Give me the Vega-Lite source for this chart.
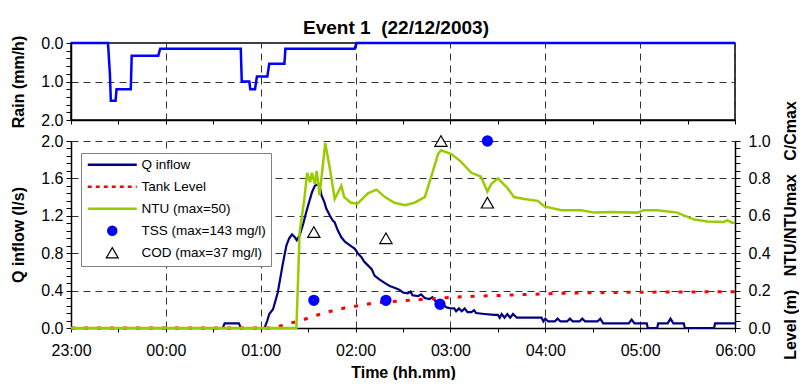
{
  "$schema": "https://vega.github.io/schema/vega-lite/v6.json",
  "background": "white",
  "padding": {"left": 10, "top": 18, "right": 0, "bottom": 0},
  "config": {
    "font": "Liberation Sans",
    "view": {"stroke": null},
    "axis": {
      "labelFont": "Liberation Sans", "labelFontSize": 16, "labelColor": "#000",
      "titleFont": "Liberation Sans", "titleFontSize": 16, "titleFontWeight": "bold", "titleColor": "#000",
      "domainColor": "#000", "domainWidth": 1.5, "tickColor": "#000", "tickWidth": 1,
      "gridColor": "#333", "gridDash": [7, 5], "gridWidth": 1,
      "labelOverlap": false, "labelBound": false, "labelFlush": false
    }
  },
  "datasets": {
    "rain": [
      {"h": 0, "v": 0}, {"h": 0.39, "v": 0}, {"h": 0.41, "v": 0.8}, {"h": 0.42, "v": 1.5}, {"h": 0.47, "v": 1.5},
      {"h": 0.48, "v": 1.2}, {"h": 0.63, "v": 1.2}, {"h": 0.64, "v": 0.33}, {"h": 0.92, "v": 0.33}, {"h": 0.94, "v": 0.15},
      {"h": 1.79, "v": 0.15}, {"h": 1.8, "v": 1.0}, {"h": 1.88, "v": 1.0}, {"h": 1.89, "v": 1.2}, {"h": 1.94, "v": 1.2},
      {"h": 1.96, "v": 0.87}, {"h": 2.07, "v": 0.87}, {"h": 2.09, "v": 0.54}, {"h": 2.25, "v": 0.54}, {"h": 2.26, "v": 0.15},
      {"h": 2.99, "v": 0.15}, {"h": 3.01, "v": 0}, {"h": 7, "v": 0}
    ],
    "q": [
      {"h": 0, "v": 0}, {"h": 1.6, "v": 0}, {"h": 1.62, "v": 0.05}, {"h": 1.77, "v": 0.05}, {"h": 1.79, "v": 0},
      {"h": 2.04, "v": 0}, {"h": 2.07, "v": 0.08}, {"h": 2.09, "v": 0.15}, {"h": 2.13, "v": 0.2}, {"h": 2.18, "v": 0.38},
      {"h": 2.23, "v": 0.67}, {"h": 2.27, "v": 0.88}, {"h": 2.3, "v": 0.96}, {"h": 2.33, "v": 1.0}, {"h": 2.36, "v": 0.97},
      {"h": 2.38, "v": 0.94}, {"h": 2.41, "v": 0.99}, {"h": 2.45, "v": 1.12}, {"h": 2.48, "v": 1.24}, {"h": 2.54, "v": 1.45},
      {"h": 2.57, "v": 1.52}, {"h": 2.61, "v": 1.54}, {"h": 2.63, "v": 1.48}, {"h": 2.64, "v": 1.42}, {"h": 2.67, "v": 1.35},
      {"h": 2.69, "v": 1.28}, {"h": 2.73, "v": 1.2}, {"h": 2.76, "v": 1.15}, {"h": 2.78, "v": 1.13}, {"h": 2.81, "v": 1.05},
      {"h": 2.85, "v": 0.97}, {"h": 2.89, "v": 0.92}, {"h": 2.92, "v": 0.9}, {"h": 2.96, "v": 0.87}, {"h": 2.99, "v": 0.85},
      {"h": 3.03, "v": 0.79}, {"h": 3.06, "v": 0.76}, {"h": 3.09, "v": 0.71}, {"h": 3.13, "v": 0.67}, {"h": 3.17, "v": 0.63},
      {"h": 3.2, "v": 0.56}, {"h": 3.25, "v": 0.52}, {"h": 3.31, "v": 0.48}, {"h": 3.36, "v": 0.45}, {"h": 3.41, "v": 0.43},
      {"h": 3.46, "v": 0.41}, {"h": 3.5, "v": 0.38}, {"h": 3.55, "v": 0.37}, {"h": 3.58, "v": 0.39}, {"h": 3.6, "v": 0.35},
      {"h": 3.66, "v": 0.34}, {"h": 3.69, "v": 0.36}, {"h": 3.73, "v": 0.32}, {"h": 3.78, "v": 0.31}, {"h": 3.81, "v": 0.33},
      {"h": 3.84, "v": 0.29}, {"h": 3.87, "v": 0.28}, {"h": 3.92, "v": 0.25}, {"h": 3.96, "v": 0.22}, {"h": 4.0, "v": 0.21},
      {"h": 4.04, "v": 0.21}, {"h": 4.06, "v": 0.18}, {"h": 4.09, "v": 0.21}, {"h": 4.12, "v": 0.18}, {"h": 4.15, "v": 0.21},
      {"h": 4.18, "v": 0.17}, {"h": 4.22, "v": 0.17}, {"h": 4.25, "v": 0.19}, {"h": 4.27, "v": 0.16}, {"h": 4.36, "v": 0.15},
      {"h": 4.46, "v": 0.14}, {"h": 4.5, "v": 0.14}, {"h": 4.52, "v": 0.11}, {"h": 4.54, "v": 0.15}, {"h": 4.57, "v": 0.11},
      {"h": 4.6, "v": 0.15}, {"h": 4.63, "v": 0.11}, {"h": 4.66, "v": 0.15}, {"h": 4.7, "v": 0.11}, {"h": 4.74, "v": 0.11},
      {"h": 4.81, "v": 0.11}, {"h": 4.96, "v": 0.11}, {"h": 4.98, "v": 0.07}, {"h": 5.0, "v": 0.1}, {"h": 5.03, "v": 0.07},
      {"h": 5.1, "v": 0.07}, {"h": 5.13, "v": 0.1}, {"h": 5.16, "v": 0.07}, {"h": 5.23, "v": 0.07}, {"h": 5.26, "v": 0.1},
      {"h": 5.29, "v": 0.07}, {"h": 5.36, "v": 0.07}, {"h": 5.39, "v": 0.1}, {"h": 5.42, "v": 0.07}, {"h": 5.55, "v": 0.07},
      {"h": 5.58, "v": 0.1}, {"h": 5.61, "v": 0.05}, {"h": 5.88, "v": 0.05}, {"h": 5.91, "v": 0.09}, {"h": 5.94, "v": 0.05},
      {"h": 6.07, "v": 0.05}, {"h": 6.08, "v": 0}, {"h": 6.18, "v": 0}, {"h": 6.19, "v": 0.05}, {"h": 6.29, "v": 0.05},
      {"h": 6.32, "v": 0.1}, {"h": 6.35, "v": 0.05}, {"h": 6.46, "v": 0.05}, {"h": 6.47, "v": 0}, {"h": 6.78, "v": 0},
      {"h": 6.79, "v": 0.05}, {"h": 7.0, "v": 0.05}
    ],
    "level": [
      {"h": 0, "v": 0}, {"h": 2.11, "v": 0}, {"h": 2.2, "v": 0.01}, {"h": 2.29, "v": 0.023}, {"h": 2.43, "v": 0.041},
      {"h": 2.59, "v": 0.068}, {"h": 2.74, "v": 0.09}, {"h": 2.88, "v": 0.107}, {"h": 3.04, "v": 0.12}, {"h": 3.2, "v": 0.134},
      {"h": 3.49, "v": 0.145}, {"h": 3.65, "v": 0.151}, {"h": 3.95, "v": 0.162}, {"h": 4.25, "v": 0.17}, {"h": 4.57, "v": 0.175},
      {"h": 5.17, "v": 0.186}, {"h": 5.86, "v": 0.191}, {"h": 6.57, "v": 0.193}, {"h": 7.0, "v": 0.194}
    ],
    "ntu": [
      {"h": 0, "v": 0}, {"h": 2.376, "v": 0}, {"h": 2.39, "v": 0.2}, {"h": 2.41, "v": 0.51}, {"h": 2.46, "v": 0.69},
      {"h": 2.49, "v": 0.83}, {"h": 2.52, "v": 0.78}, {"h": 2.54, "v": 0.83}, {"h": 2.57, "v": 0.77}, {"h": 2.59, "v": 0.84},
      {"h": 2.62, "v": 0.71}, {"h": 2.64, "v": 0.8}, {"h": 2.68, "v": 0.99}, {"h": 2.73, "v": 0.85}, {"h": 2.78, "v": 0.69},
      {"h": 2.85, "v": 0.76}, {"h": 2.88, "v": 0.7}, {"h": 2.95, "v": 0.67}, {"h": 3.02, "v": 0.665}, {"h": 3.13, "v": 0.72},
      {"h": 3.22, "v": 0.74}, {"h": 3.31, "v": 0.7}, {"h": 3.41, "v": 0.67}, {"h": 3.52, "v": 0.656}, {"h": 3.62, "v": 0.67},
      {"h": 3.73, "v": 0.7}, {"h": 3.81, "v": 0.83}, {"h": 3.87, "v": 0.93}, {"h": 3.9, "v": 0.95}, {"h": 4.01, "v": 0.93},
      {"h": 4.11, "v": 0.89}, {"h": 4.22, "v": 0.83}, {"h": 4.32, "v": 0.81}, {"h": 4.39, "v": 0.73}, {"h": 4.43, "v": 0.77},
      {"h": 4.5, "v": 0.8}, {"h": 4.6, "v": 0.75}, {"h": 4.67, "v": 0.7}, {"h": 4.78, "v": 0.69}, {"h": 4.92, "v": 0.68},
      {"h": 4.99, "v": 0.65}, {"h": 5.17, "v": 0.63}, {"h": 5.38, "v": 0.63}, {"h": 5.52, "v": 0.617}, {"h": 5.69, "v": 0.62},
      {"h": 5.97, "v": 0.617}, {"h": 6.04, "v": 0.63}, {"h": 6.18, "v": 0.63}, {"h": 6.39, "v": 0.617}, {"h": 6.57, "v": 0.58},
      {"h": 6.71, "v": 0.57}, {"h": 6.88, "v": 0.567}, {"h": 6.92, "v": 0.576}, {"h": 6.97, "v": 0.563}, {"h": 7.0, "v": 0.563}
    ],
    "tss": [
      {"h": 2.56, "v": 0.148}, {"h": 3.32, "v": 0.148}, {"h": 3.89, "v": 0.127}, {"h": 4.39, "v": 1.0}
    ],
    "cod": [
      {"h": 2.56, "v": 0.513}, {"h": 3.32, "v": 0.48}, {"h": 3.9, "v": 1.0}, {"h": 4.39, "v": 0.67}
    ]
  },
  "spacing": 21,
  "bounds": "flush",
  "resolve": {"legend": {"color": "independent"}},
  "vconcat": [
    {
      "width": 664,
      "height": 77,
      "title": {"text": "Event 1\u00a0\u00a0(22/12/2003)", "fontSize": 19, "fontWeight": "bold", "font": "Liberation Sans", "color": "#000", "offset": -3, "dx": -7},
      "view": {"stroke": "#000", "strokeWidth": 1.5},
      "data": {"name": "rain"},
      "mark": {"type": "line", "color": "#0000ff", "strokeWidth": 2.5},
      "encoding": {
        "x": {
          "field": "h", "type": "quantitative",
          "scale": {"domain": [0, 7], "nice": false, "zero": false},
          "axis": {
            "values": [0, 0.5, 1, 1.5, 2, 2.5, 3, 3.5, 4, 4.5, 5, 5.5, 6, 6.5, 7],
            "labels": false, "title": null, "tickSize": 4,
            "gridOpacity": {"condition": {"test": "datum.value % 1 == 0", "value": 1}, "value": 0}
          }
        },
        "y": {
          "field": "v", "type": "quantitative",
          "scale": {"domain": [0, 2], "reverse": true, "nice": false},
          "axis": {
            "title": "Rain (mm/h)", "titlePadding": 14,
            "values": [0, 0.2, 0.4, 0.6, 0.8, 1, 1.2, 1.4, 1.6, 1.8, 2],
            "labelExpr": "abs(datum.value - round(datum.value)) < 0.01 ? format(datum.value, '.1f') : ''",
            "tickSize": 5, "labelPadding": 3,
            "gridOpacity": {"condition": {"test": "abs(datum.value - 1) < 0.01", "value": 1}, "value": 0}
          }
        }
      }
    },
    {
      "width": 664,
      "height": 187,
      "encoding": {
        "x": {
          "field": "h", "type": "quantitative",
          "scale": {"domain": [0, 7], "nice": false, "zero": false},
          "axis": {
            "title": "Time (hh.mm)", "titlePadding": 6,
            "values": [0, 0.5, 1, 1.5, 2, 2.5, 3, 3.5, 4, 4.5, 5, 5.5, 6, 6.5, 7],
            "labelExpr": "datum.value % 1 == 0 ? ['23:00','00:00','01:00','02:00','03:00','04:00','05:00','06:00'][datum.value] : ''",
            "tickSize": 4, "labelPadding": 10,
            "gridOpacity": {"condition": {"test": "datum.value % 1 == 0", "value": 1}, "value": 0}
          }
        }
      },
      "layer": [
        {
          "data": {"name": "q"},
          "mark": {"type": "line", "strokeWidth": 2.2},
          "encoding": {
            "y": {
              "field": "v", "type": "quantitative",
              "scale": {"domain": [0, 2], "nice": false},
              "axis": {
                "title": "Q inflow (l/s)", "titlePadding": 14,
                "values": [0, 0.08, 0.16, 0.24, 0.32, 0.4, 0.48, 0.56, 0.64, 0.72, 0.8, 0.88, 0.96, 1.04, 1.12, 1.2, 1.28, 1.36, 1.44, 1.52, 1.6, 1.68, 1.76, 1.84, 1.92, 2],
                "labelExpr": "abs(datum.value / 0.4 - round(datum.value / 0.4)) < 0.01 ? format(datum.value, '.1f') : ''",
                "tickSize": 5, "labelPadding": 3,
                "gridOpacity": {"condition": {"test": "abs(datum.value / 0.4 - round(datum.value / 0.4)) < 0.01", "value": 1}, "value": 0}
              }
            },
            "color": {
              "datum": "Q inflow", "type": "nominal",
              "scale": {
                "domain": ["Q inflow", "Tank Level", "NTU (max=50)", "TSS (max=143 mg/l)", "COD (max=37 mg/l)"],
                "range": ["#000080", "#ff0000", "#99cc00", "#0000ff", "#000000"]
              },
              "legend": {
                "orient": "none", "legendX": 10, "legendY": 12, "title": null,
                "fillColor": "#ffffff", "strokeColor": "#808080", "padding": 5,
                "labelFont": "Liberation Sans", "labelFontSize": 13.5, "labelColor": "#000",
                "labelOffset": 22.5, "symbolOffset": 19.5, "rowPadding": 7, "symbolSize": 2401, "symbolStrokeWidth": 2.5,
                "encode": {
                  "symbols": {
                    "update": {
                      "shape": {"signal": "datum.value == 'TSS (max=143 mg/l)' ? 'circle' : datum.value == 'COD (max=37 mg/l)' ? 'triangle-up' : 'stroke'"},
                      "size": {"signal": "datum.value == 'TSS (max=143 mg/l)' ? 110 : datum.value == 'COD (max=37 mg/l)' ? 140 : 2401"},
                      "fill": {"signal": "datum.value == 'TSS (max=143 mg/l)' ? '#0000ff' : 'transparent'"},
                      "strokeWidth": {"signal": "datum.value == 'COD (max=37 mg/l)' ? 1.2 : datum.value == 'TSS (max=143 mg/l)' ? 0 : 2.5"},
                      "strokeDash": {"signal": "datum.value == 'Tank Level' ? [4, 4] : [1, 0]"},
                      "opacity": {"value": 1}
                    }
                  }
                }
              }
            }
          }
        },
        {
          "encoding": {
            "y": {
              "field": "v", "type": "quantitative",
              "scale": {"domain": [0, 1], "nice": false},
              "axis": {
                "orient": "right",
                "title": "Level (m)\u00a0\u00a0\u00a0NTU/NTUmax\u00a0\u00a0\u00a0C/Cmax", "titlePadding": 12, "titleAngle": 270, "titleBaseline": "top", "titleY": 89,
                "values": [0, 0.04, 0.08, 0.12, 0.16, 0.2, 0.24, 0.28, 0.32, 0.36, 0.4, 0.44, 0.48, 0.52, 0.56, 0.6, 0.64, 0.68, 0.72, 0.76, 0.8, 0.84, 0.88, 0.92, 0.96, 1],
                "labelExpr": "abs(datum.value / 0.2 - round(datum.value / 0.2)) < 0.01 ? format(datum.value, '.1f') : ''",
                "tickSize": 5, "labelPadding": 8, "grid": false
              }
            }
          },
          "layer": [
            {
              "data": {"name": "level"},
              "mark": {"type": "line", "strokeWidth": 3, "strokeDash": [4, 9]},
              "encoding": {"color": {"datum": "Tank Level", "type": "nominal"}}
            },
            {
              "data": {"name": "ntu"},
              "mark": {"type": "line", "strokeWidth": 2.5},
              "encoding": {"color": {"datum": "NTU (max=50)", "type": "nominal"}}
            },
            {
              "data": {"name": "tss"},
              "mark": {"type": "point", "shape": "circle", "filled": false, "size": 28, "strokeWidth": 6, "opacity": 1},
              "encoding": {"color": {"datum": "TSS (max=143 mg/l)", "type": "nominal"}}
            },
            {
              "data": {"name": "cod"},
              "mark": {"type": "point", "shape": "triangle-up", "filled": false, "size": 150, "strokeWidth": 1.2, "opacity": 1},
              "encoding": {"color": {"datum": "COD (max=37 mg/l)", "type": "nominal"}}
            }
          ]
        }
      ],
      "resolve": {"scale": {"y": "independent"}}
    }
  ]
}
